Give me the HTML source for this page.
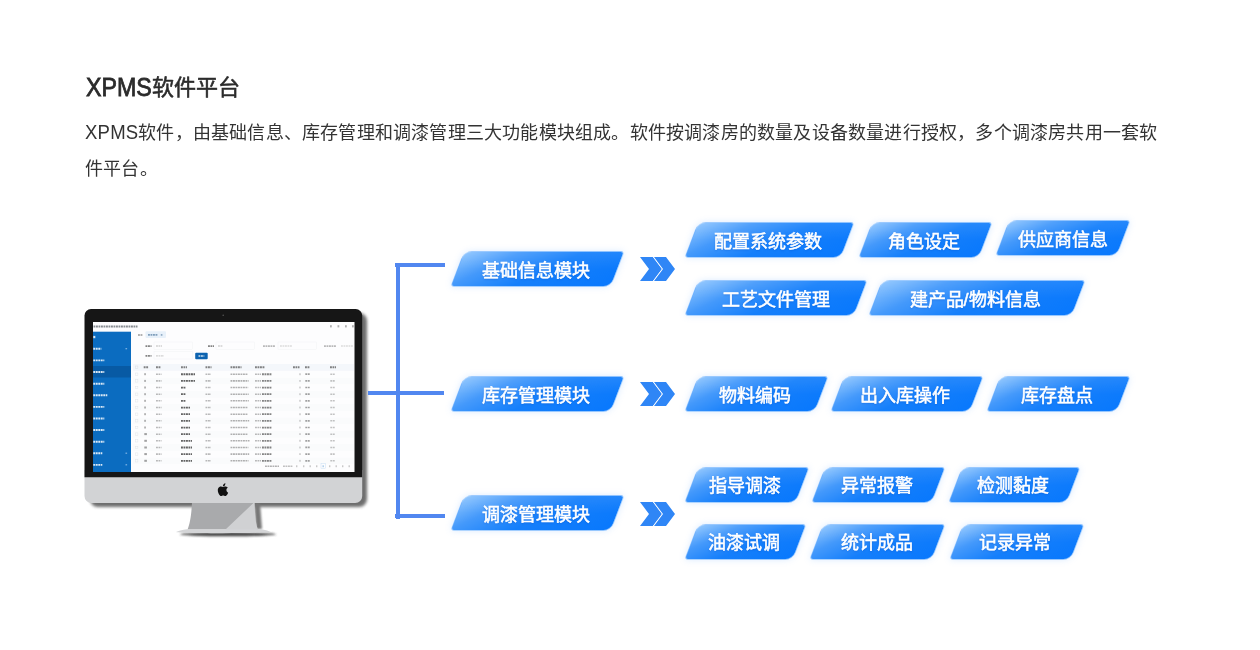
<!DOCTYPE html>
<html lang="zh-CN">
<head>
<meta charset="utf-8">
<title>XPMS软件平台</title>
<style>
*{margin:0;padding:0;box-sizing:border-box}
html,body{width:1260px;height:650px;background:#fff;overflow:hidden}
body{position:relative;font-family:"Liberation Sans",sans-serif;color:#333}
h1{position:absolute;left:85.6px;top:72px;font-size:22px;line-height:32px;font-weight:400;color:#2b2b2b;white-space:nowrap;will-change:transform;-webkit-text-stroke:.55px #2b2b2b}
h1 .lat{display:inline-block;transform:translateY(.6px) scale(1.056,1.13);transform-origin:0 23.6px;margin-right:3.5px;-webkit-text-stroke:.7px #2b2b2b}
p.desc{will-change:transform;position:absolute;left:85px;top:115px;width:1078px;font-size:18px;line-height:36px;color:#333;letter-spacing:.2px}
p.desc .lat{display:inline-block;transform:scale(1.03,1.1);transform-origin:0 24.2px;margin-right:1.4px}
.ln{position:absolute;background:#5187f0}
.pill{position:absolute;height:36px;transform:skewX(-21deg);border-radius:8px 4px 8px 4px;
 background:linear-gradient(180deg,rgba(255,255,255,.08) 0%,rgba(255,255,255,0) 50%),linear-gradient(150deg,#8cc4fe 0%,#4499fb 26%,#157ffb 55%,#0878fd 100%);
 border:1px solid rgba(190,220,255,.75);box-shadow:0 0 6px rgba(120,180,255,.25)}
.pill span{display:block;transform:skewX(21deg);text-align:center;font-size:18px;letter-spacing:0;line-height:39.4px;font-weight:400;-webkit-text-stroke:.55px #fff;color:#fff;white-space:nowrap;text-shadow:0 1px 2px rgba(0,70,190,.45);margin-left:-.6px}
svg{position:absolute;left:0;top:0}
</style>
</head>
<body>
<h1><span class="lat">XPMS</span>软件平台</h1>
<p class="desc"><span class="lat">XPMS</span>软件，由基础信息、库存管理和调漆管理三大功能模块组成。软件按调漆房的数量及设备数量进行授权，多个调漆房共用一套软件平台。</p>


<!-- iMac -->
<svg width="1260" height="650" viewBox="0 0 1260 650">
 <defs>
  <filter id="bl0" x="-5%" y="-5%" width="110%" height="110%"><feGaussianBlur stdDeviation=".42"/></filter>
  <filter id="bl2" x="-20%" y="-20%" width="140%" height="140%"><feGaussianBlur stdDeviation="1.6"/></filter>
  <filter id="bl1" x="-20%" y="-50%" width="140%" height="200%"><feGaussianBlur stdDeviation="1.2"/></filter>
  <clipPath id="scr"><rect x="93" y="322" width="261.5" height="150"/></clipPath>
 </defs>
 <!-- body shadow -->
 <rect x="90" y="313" width="277" height="194" rx="8" fill="#555" opacity=".85" filter="url(#bl2)"/>
 <!-- stand shadow -->
 <path d="M254,503 L260,503 L262,529 L256,529 Z" fill="#777" filter="url(#bl1)"/>
 <ellipse cx="228" cy="534.3" rx="48" ry="2" fill="#444" filter="url(#bl1)"/>
 <!-- stand -->
 <path d="M192,502 H254.5 C255,514 255.5,524 258,529.5 H187.5 C190,524 191.5,514 192,502 Z" fill="#a9aaac"/>
 <path d="M254.5,502 C255,514 255.5,524 258,529.5 H225.5 Z" fill="#d0d1d3"/>
 <path d="M176,532 C182,529.6 186,529.3 190,529.3 H256 C262,529.3 266,529.8 270.5,532 C262,533.6 184,533.6 176,532 Z" fill="#d4d5d7"/>
 <!-- chin -->
 <path d="M84.5,470 H362.2 V496 a7,7 0 0 1 -7,7 H91.5 a7,7 0 0 1 -7,-7 Z" fill="#d2d3d5"/>
 <!-- bezel -->
 <path d="M91,309 H355.7 a6.5,6.5 0 0 1 6.5,6.5 V477.2 H84.5 V315.5 a6.5,6.5 0 0 1 6.5,-6.5 Z" fill="#161616"/>
 <circle cx="223.2" cy="315.3" r=".8" fill="#555"/>
 <!-- screen -->
 <rect x="93" y="322" width="261.5" height="150" fill="#fdfdfe"/>
 <g clip-path="url(#scr)">
  <rect x="93" y="331.7" width="38" height="141" fill="#0b6cc0"/>
  <rect x="93" y="366" width="38" height="11.5" fill="#085aa4"/>
  <g id="scrc" filter="url(#bl0)">
  <line x1="93.5" y1="326.45" x2="137.5" y2="326.45" stroke="#3a4048" stroke-width="1.95" stroke-dasharray="1.9 .6" opacity="0.6"/>
  <rect x="330.0" y="325.2" width="1.8" height="2.2" fill="#555" opacity="0.45"/>
  <rect x="337.5" y="325.2" width="1.8" height="2.2" fill="#555" opacity="0.45"/>
  <rect x="345.0" y="325.2" width="1.8" height="2.2" fill="#555" opacity="0.45"/>
  <rect x="352.0" y="325.2" width="1.8" height="2.2" fill="#555" opacity="0.45"/>
  <rect x="93.3" y="335.9" width="2.0" height="2.3" fill="#fff" opacity="0.85"/>
  <line x1="93.3" y1="348.75" x2="101.3" y2="348.75" stroke="#fff" stroke-width="1.95" stroke-dasharray="1.9 .6" opacity="0.85"/>
  <line x1="93.3" y1="360.35" x2="104.3" y2="360.35" stroke="#fff" stroke-width="1.95" stroke-dasharray="1.9 .6" opacity="0.85"/>
  <line x1="93.3" y1="371.95" x2="104.3" y2="371.95" stroke="#fff" stroke-width="1.95" stroke-dasharray="1.9 .6" opacity="0.85"/>
  <line x1="93.3" y1="383.65" x2="104.3" y2="383.65" stroke="#fff" stroke-width="1.95" stroke-dasharray="1.9 .6" opacity="0.85"/>
  <line x1="93.3" y1="395.25" x2="107.3" y2="395.25" stroke="#fff" stroke-width="1.95" stroke-dasharray="1.9 .6" opacity="0.85"/>
  <line x1="93.3" y1="406.85" x2="104.3" y2="406.85" stroke="#fff" stroke-width="1.95" stroke-dasharray="1.9 .6" opacity="0.85"/>
  <line x1="93.3" y1="418.45" x2="104.3" y2="418.45" stroke="#fff" stroke-width="1.95" stroke-dasharray="1.9 .6" opacity="0.85"/>
  <line x1="93.3" y1="430.05" x2="104.3" y2="430.05" stroke="#fff" stroke-width="1.95" stroke-dasharray="1.9 .6" opacity="0.85"/>
  <line x1="93.3" y1="441.65" x2="104.3" y2="441.65" stroke="#fff" stroke-width="1.95" stroke-dasharray="1.9 .6" opacity="0.85"/>
  <line x1="93.3" y1="453.25" x2="102.3" y2="453.25" stroke="#fff" stroke-width="1.95" stroke-dasharray="1.9 .6" opacity="0.85"/>
  <line x1="93.3" y1="464.85" x2="102.3" y2="464.85" stroke="#fff" stroke-width="1.95" stroke-dasharray="1.9 .6" opacity="0.85"/>
  <rect x="125.5" y="348.1" width="1.6" height="1.2" fill="#9cc6ec" opacity="0.8"/>
  <rect x="125.5" y="452.6" width="1.6" height="1.2" fill="#9cc6ec" opacity="0.8"/>
  <rect x="125.5" y="464.2" width="1.6" height="1.2" fill="#9cc6ec" opacity="0.8"/>
  <line x1="138.0" y1="335.00" x2="143.0" y2="335.00" stroke="#444" stroke-width="1.70" stroke-dasharray="1.9 .6" opacity="0.55"/>
  <rect x="145.5" y="331.3" width="20.5" height="6.6" fill="#e8f1fa" rx="1"/>
  <line x1="148.0" y1="334.95" x2="158.0" y2="334.95" stroke="#3c6a94" stroke-width="1.78" stroke-dasharray="1.9 .6" opacity="0.6"/>
  <rect x="160.8" y="334.0" width="1.6" height="1.8" fill="#3c6a94" opacity="0.5"/>
  <line x1="145.5" y1="346.05" x2="151.5" y2="346.05" stroke="#333" stroke-width="1.78" stroke-dasharray="1.9 .6" opacity="0.6"/>
  <line x1="156.0" y1="346.05" x2="162.0" y2="346.05" stroke="#aaa" stroke-width="1.44" stroke-dasharray="1.9 .6" opacity="0.55"/>
  <rect x="154.0" y="342.0" width="38.5" height="7.2" fill="none" stroke="#eef0f3" stroke-width=".4"/>
  <line x1="208.0" y1="346.05" x2="214.0" y2="346.05" stroke="#333" stroke-width="1.78" stroke-dasharray="1.9 .6" opacity="0.6"/>
  <line x1="218.0" y1="346.05" x2="223.0" y2="346.05" stroke="#aaa" stroke-width="1.44" stroke-dasharray="1.9 .6" opacity="0.55"/>
  <rect x="216.0" y="342.0" width="38.5" height="7.2" fill="none" stroke="#eef0f3" stroke-width=".4"/>
  <line x1="263.0" y1="346.10" x2="275.0" y2="346.10" stroke="#777" stroke-width="1.70" stroke-dasharray="1.9 .6" opacity="0.5"/>
  <line x1="280.0" y1="346.05" x2="292.0" y2="346.05" stroke="#bbb" stroke-width="1.44" stroke-dasharray="1.9 .6" opacity="0.5"/>
  <rect x="278.0" y="342.0" width="38.5" height="7.2" fill="none" stroke="#eef0f3" stroke-width=".4"/>
  <line x1="324.0" y1="346.10" x2="336.0" y2="346.10" stroke="#777" stroke-width="1.70" stroke-dasharray="1.9 .6" opacity="0.5"/>
  <line x1="341.0" y1="346.05" x2="353.0" y2="346.05" stroke="#bbb" stroke-width="1.44" stroke-dasharray="1.9 .6" opacity="0.5"/>
  <line x1="145.5" y1="355.85" x2="151.5" y2="355.85" stroke="#333" stroke-width="1.78" stroke-dasharray="1.9 .6" opacity="0.6"/>
  <line x1="156.0" y1="355.85" x2="164.0" y2="355.85" stroke="#aaa" stroke-width="1.44" stroke-dasharray="1.9 .6" opacity="0.55"/>
  <rect x="154.0" y="351.8" width="38.5" height="7.2" fill="none" stroke="#eef0f3" stroke-width=".4"/>
  <rect x="195.2" y="352.7" width="12.5" height="6.5" fill="#0b64b0" rx="1"/>
  <line x1="198.5" y1="356.00" x2="204.3" y2="356.00" stroke="#fff" stroke-width="1.70" stroke-dasharray="1.9 .6" opacity="0.8"/>
  <rect x="133.0" y="364.0" width="221.0" height="6.8" fill="#f4f7fb"/>
  <line x1="143.7" y1="367.30" x2="148.7" y2="367.30" stroke="#333" stroke-width="1.87" stroke-dasharray="1.9 .6" opacity="0.6"/>
  <line x1="156.0" y1="367.30" x2="161.0" y2="367.30" stroke="#333" stroke-width="1.87" stroke-dasharray="1.9 .6" opacity="0.6"/>
  <line x1="181.0" y1="367.30" x2="187.0" y2="367.30" stroke="#333" stroke-width="1.87" stroke-dasharray="1.9 .6" opacity="0.6"/>
  <line x1="205.5" y1="367.30" x2="211.5" y2="367.30" stroke="#333" stroke-width="1.87" stroke-dasharray="1.9 .6" opacity="0.6"/>
  <line x1="230.5" y1="367.30" x2="241.5" y2="367.30" stroke="#333" stroke-width="1.87" stroke-dasharray="1.9 .6" opacity="0.6"/>
  <line x1="255.0" y1="367.30" x2="265.0" y2="367.30" stroke="#333" stroke-width="1.87" stroke-dasharray="1.9 .6" opacity="0.6"/>
  <line x1="293.0" y1="367.30" x2="299.5" y2="367.30" stroke="#333" stroke-width="1.87" stroke-dasharray="1.9 .6" opacity="0.6"/>
  <line x1="305.0" y1="367.30" x2="310.0" y2="367.30" stroke="#333" stroke-width="1.87" stroke-dasharray="1.9 .6" opacity="0.6"/>
  <line x1="330.0" y1="367.30" x2="336.0" y2="367.30" stroke="#333" stroke-width="1.87" stroke-dasharray="1.9 .6" opacity="0.6"/>
  <rect x="135.5" y="366.0" width="2.4" height="2.4" fill="none" stroke="#d5d9de" stroke-width=".4"/>
  <rect x="135.5" y="373.0" width="2.4" height="2.4" fill="none" stroke="#dde0e4" stroke-width=".4"/>
  <rect x="144.3" y="373.2" width="1.5" height="2.0" fill="#555" opacity="0.55"/>
  <line x1="156.0" y1="374.20" x2="161.5" y2="374.20" stroke="#777" stroke-width="1.53" stroke-dasharray="1.9 .6" opacity="0.5"/>
  <line x1="181.0" y1="374.25" x2="195.0" y2="374.25" stroke="#222" stroke-width="1.78" stroke-dasharray="1.9 .6" opacity="0.7"/>
  <line x1="205.5" y1="374.20" x2="211.0" y2="374.20" stroke="#777" stroke-width="1.53" stroke-dasharray="1.9 .6" opacity="0.5"/>
  <line x1="230.5" y1="374.20" x2="248.0" y2="374.20" stroke="#666" stroke-width="1.53" stroke-dasharray="1.9 .6" opacity="0.5"/>
  <line x1="255.0" y1="374.20" x2="261.0" y2="374.20" stroke="#777" stroke-width="1.53" stroke-dasharray="1.9 .6" opacity="0.5"/>
  <line x1="262.0" y1="374.25" x2="271.5" y2="374.25" stroke="#333" stroke-width="1.78" stroke-dasharray="1.9 .6" opacity="0.6"/>
  <rect x="299.5" y="373.3" width="1.0" height="1.8" fill="#666" opacity="0.5"/>
  <line x1="305.3" y1="374.20" x2="309.8" y2="374.20" stroke="#555" stroke-width="1.70" stroke-dasharray="1.9 .6" opacity="0.55"/>
  <line x1="330.3" y1="374.20" x2="334.8" y2="374.20" stroke="#888" stroke-width="1.53" stroke-dasharray="1.9 .6" opacity="0.5"/>
  <rect x="133.0" y="377.7" width="221.0" height="6.6" fill="#fafbfc"/>
  <rect x="135.5" y="379.7" width="2.4" height="2.4" fill="none" stroke="#dde0e4" stroke-width=".4"/>
  <rect x="144.3" y="379.9" width="1.5" height="2.0" fill="#555" opacity="0.55"/>
  <line x1="156.0" y1="380.86" x2="161.5" y2="380.86" stroke="#777" stroke-width="1.53" stroke-dasharray="1.9 .6" opacity="0.5"/>
  <line x1="181.0" y1="380.91" x2="195.0" y2="380.91" stroke="#222" stroke-width="1.78" stroke-dasharray="1.9 .6" opacity="0.7"/>
  <line x1="205.5" y1="380.86" x2="211.0" y2="380.86" stroke="#777" stroke-width="1.53" stroke-dasharray="1.9 .6" opacity="0.5"/>
  <line x1="230.5" y1="380.86" x2="248.6" y2="380.86" stroke="#666" stroke-width="1.53" stroke-dasharray="1.9 .6" opacity="0.5"/>
  <line x1="255.0" y1="380.86" x2="261.0" y2="380.86" stroke="#777" stroke-width="1.53" stroke-dasharray="1.9 .6" opacity="0.5"/>
  <line x1="262.0" y1="380.91" x2="271.5" y2="380.91" stroke="#333" stroke-width="1.78" stroke-dasharray="1.9 .6" opacity="0.6"/>
  <rect x="299.5" y="380.0" width="1.0" height="1.8" fill="#666" opacity="0.5"/>
  <line x1="305.3" y1="380.86" x2="309.8" y2="380.86" stroke="#555" stroke-width="1.70" stroke-dasharray="1.9 .6" opacity="0.55"/>
  <line x1="330.3" y1="380.86" x2="334.8" y2="380.86" stroke="#888" stroke-width="1.53" stroke-dasharray="1.9 .6" opacity="0.5"/>
  <rect x="135.5" y="386.3" width="2.4" height="2.4" fill="none" stroke="#dde0e4" stroke-width=".4"/>
  <rect x="144.3" y="386.5" width="1.5" height="2.0" fill="#555" opacity="0.55"/>
  <line x1="156.0" y1="387.52" x2="161.5" y2="387.52" stroke="#777" stroke-width="1.53" stroke-dasharray="1.9 .6" opacity="0.5"/>
  <line x1="181.0" y1="387.57" x2="186.0" y2="387.57" stroke="#222" stroke-width="1.78" stroke-dasharray="1.9 .6" opacity="0.7"/>
  <line x1="205.5" y1="387.52" x2="211.0" y2="387.52" stroke="#777" stroke-width="1.53" stroke-dasharray="1.9 .6" opacity="0.5"/>
  <line x1="230.5" y1="387.52" x2="248.2" y2="387.52" stroke="#666" stroke-width="1.53" stroke-dasharray="1.9 .6" opacity="0.5"/>
  <line x1="255.0" y1="387.52" x2="261.0" y2="387.52" stroke="#777" stroke-width="1.53" stroke-dasharray="1.9 .6" opacity="0.5"/>
  <line x1="262.0" y1="387.57" x2="271.5" y2="387.57" stroke="#333" stroke-width="1.78" stroke-dasharray="1.9 .6" opacity="0.6"/>
  <rect x="299.5" y="386.6" width="1.0" height="1.8" fill="#666" opacity="0.5"/>
  <line x1="305.3" y1="387.52" x2="309.8" y2="387.52" stroke="#555" stroke-width="1.70" stroke-dasharray="1.9 .6" opacity="0.55"/>
  <line x1="330.3" y1="387.52" x2="334.8" y2="387.52" stroke="#888" stroke-width="1.53" stroke-dasharray="1.9 .6" opacity="0.5"/>
  <rect x="133.0" y="391.0" width="221.0" height="6.6" fill="#fafbfc"/>
  <rect x="135.5" y="393.0" width="2.4" height="2.4" fill="none" stroke="#dde0e4" stroke-width=".4"/>
  <rect x="144.3" y="393.2" width="1.5" height="2.0" fill="#555" opacity="0.55"/>
  <line x1="156.0" y1="394.18" x2="161.5" y2="394.18" stroke="#777" stroke-width="1.53" stroke-dasharray="1.9 .6" opacity="0.5"/>
  <line x1="181.0" y1="394.23" x2="186.0" y2="394.23" stroke="#222" stroke-width="1.78" stroke-dasharray="1.9 .6" opacity="0.7"/>
  <line x1="205.5" y1="394.18" x2="211.0" y2="394.18" stroke="#777" stroke-width="1.53" stroke-dasharray="1.9 .6" opacity="0.5"/>
  <line x1="230.5" y1="394.18" x2="248.7" y2="394.18" stroke="#666" stroke-width="1.53" stroke-dasharray="1.9 .6" opacity="0.5"/>
  <line x1="255.0" y1="394.18" x2="261.0" y2="394.18" stroke="#777" stroke-width="1.53" stroke-dasharray="1.9 .6" opacity="0.5"/>
  <line x1="262.0" y1="394.23" x2="271.5" y2="394.23" stroke="#333" stroke-width="1.78" stroke-dasharray="1.9 .6" opacity="0.6"/>
  <rect x="299.5" y="393.3" width="1.0" height="1.8" fill="#666" opacity="0.5"/>
  <line x1="305.3" y1="394.18" x2="309.8" y2="394.18" stroke="#555" stroke-width="1.70" stroke-dasharray="1.9 .6" opacity="0.55"/>
  <line x1="330.3" y1="394.18" x2="334.8" y2="394.18" stroke="#888" stroke-width="1.53" stroke-dasharray="1.9 .6" opacity="0.5"/>
  <rect x="135.5" y="399.6" width="2.4" height="2.4" fill="none" stroke="#dde0e4" stroke-width=".4"/>
  <rect x="144.3" y="399.8" width="1.5" height="2.0" fill="#555" opacity="0.55"/>
  <line x1="156.0" y1="400.84" x2="161.5" y2="400.84" stroke="#777" stroke-width="1.53" stroke-dasharray="1.9 .6" opacity="0.5"/>
  <line x1="181.0" y1="400.89" x2="186.0" y2="400.89" stroke="#222" stroke-width="1.78" stroke-dasharray="1.9 .6" opacity="0.7"/>
  <line x1="205.5" y1="400.84" x2="211.0" y2="400.84" stroke="#777" stroke-width="1.53" stroke-dasharray="1.9 .6" opacity="0.5"/>
  <line x1="230.5" y1="400.84" x2="248.8" y2="400.84" stroke="#666" stroke-width="1.53" stroke-dasharray="1.9 .6" opacity="0.5"/>
  <line x1="255.0" y1="400.84" x2="261.0" y2="400.84" stroke="#777" stroke-width="1.53" stroke-dasharray="1.9 .6" opacity="0.5"/>
  <line x1="262.0" y1="400.89" x2="271.5" y2="400.89" stroke="#333" stroke-width="1.78" stroke-dasharray="1.9 .6" opacity="0.6"/>
  <rect x="299.5" y="399.9" width="1.0" height="1.8" fill="#666" opacity="0.5"/>
  <line x1="305.3" y1="400.84" x2="309.8" y2="400.84" stroke="#555" stroke-width="1.70" stroke-dasharray="1.9 .6" opacity="0.55"/>
  <line x1="330.3" y1="400.84" x2="334.8" y2="400.84" stroke="#888" stroke-width="1.53" stroke-dasharray="1.9 .6" opacity="0.5"/>
  <rect x="133.0" y="404.3" width="221.0" height="6.6" fill="#fafbfc"/>
  <rect x="135.5" y="406.3" width="2.4" height="2.4" fill="none" stroke="#dde0e4" stroke-width=".4"/>
  <rect x="144.3" y="406.5" width="1.5" height="2.0" fill="#555" opacity="0.55"/>
  <line x1="156.0" y1="407.50" x2="161.5" y2="407.50" stroke="#777" stroke-width="1.53" stroke-dasharray="1.9 .6" opacity="0.5"/>
  <line x1="181.0" y1="407.55" x2="190.0" y2="407.55" stroke="#222" stroke-width="1.78" stroke-dasharray="1.9 .6" opacity="0.7"/>
  <line x1="205.5" y1="407.50" x2="211.0" y2="407.50" stroke="#777" stroke-width="1.53" stroke-dasharray="1.9 .6" opacity="0.5"/>
  <line x1="230.5" y1="407.50" x2="247.6" y2="407.50" stroke="#666" stroke-width="1.53" stroke-dasharray="1.9 .6" opacity="0.5"/>
  <line x1="255.0" y1="407.50" x2="261.0" y2="407.50" stroke="#777" stroke-width="1.53" stroke-dasharray="1.9 .6" opacity="0.5"/>
  <line x1="262.0" y1="407.55" x2="271.5" y2="407.55" stroke="#333" stroke-width="1.78" stroke-dasharray="1.9 .6" opacity="0.6"/>
  <rect x="299.5" y="406.6" width="1.0" height="1.8" fill="#666" opacity="0.5"/>
  <line x1="305.3" y1="407.50" x2="309.8" y2="407.50" stroke="#555" stroke-width="1.70" stroke-dasharray="1.9 .6" opacity="0.55"/>
  <line x1="330.3" y1="407.50" x2="334.8" y2="407.50" stroke="#888" stroke-width="1.53" stroke-dasharray="1.9 .6" opacity="0.5"/>
  <rect x="135.5" y="413.0" width="2.4" height="2.4" fill="none" stroke="#dde0e4" stroke-width=".4"/>
  <rect x="144.3" y="413.2" width="1.5" height="2.0" fill="#555" opacity="0.55"/>
  <line x1="156.0" y1="414.16" x2="161.5" y2="414.16" stroke="#777" stroke-width="1.53" stroke-dasharray="1.9 .6" opacity="0.5"/>
  <line x1="181.0" y1="414.21" x2="190.0" y2="414.21" stroke="#222" stroke-width="1.78" stroke-dasharray="1.9 .6" opacity="0.7"/>
  <line x1="205.5" y1="414.16" x2="211.0" y2="414.16" stroke="#777" stroke-width="1.53" stroke-dasharray="1.9 .6" opacity="0.5"/>
  <line x1="230.5" y1="414.16" x2="247.5" y2="414.16" stroke="#666" stroke-width="1.53" stroke-dasharray="1.9 .6" opacity="0.5"/>
  <line x1="255.0" y1="414.16" x2="261.0" y2="414.16" stroke="#777" stroke-width="1.53" stroke-dasharray="1.9 .6" opacity="0.5"/>
  <line x1="262.0" y1="414.21" x2="271.5" y2="414.21" stroke="#333" stroke-width="1.78" stroke-dasharray="1.9 .6" opacity="0.6"/>
  <rect x="299.5" y="413.3" width="1.0" height="1.8" fill="#666" opacity="0.5"/>
  <line x1="305.3" y1="414.16" x2="309.8" y2="414.16" stroke="#555" stroke-width="1.70" stroke-dasharray="1.9 .6" opacity="0.55"/>
  <line x1="330.3" y1="414.16" x2="334.8" y2="414.16" stroke="#888" stroke-width="1.53" stroke-dasharray="1.9 .6" opacity="0.5"/>
  <rect x="133.0" y="417.6" width="221.0" height="6.6" fill="#fafbfc"/>
  <rect x="135.5" y="419.6" width="2.4" height="2.4" fill="none" stroke="#dde0e4" stroke-width=".4"/>
  <rect x="144.3" y="419.8" width="1.5" height="2.0" fill="#555" opacity="0.55"/>
  <line x1="156.0" y1="420.82" x2="161.5" y2="420.82" stroke="#777" stroke-width="1.53" stroke-dasharray="1.9 .6" opacity="0.5"/>
  <line x1="181.0" y1="420.87" x2="190.0" y2="420.87" stroke="#222" stroke-width="1.78" stroke-dasharray="1.9 .6" opacity="0.7"/>
  <line x1="205.5" y1="420.82" x2="211.0" y2="420.82" stroke="#777" stroke-width="1.53" stroke-dasharray="1.9 .6" opacity="0.5"/>
  <line x1="230.5" y1="420.82" x2="249.2" y2="420.82" stroke="#666" stroke-width="1.53" stroke-dasharray="1.9 .6" opacity="0.5"/>
  <line x1="255.0" y1="420.82" x2="261.0" y2="420.82" stroke="#777" stroke-width="1.53" stroke-dasharray="1.9 .6" opacity="0.5"/>
  <line x1="262.0" y1="420.87" x2="271.5" y2="420.87" stroke="#333" stroke-width="1.78" stroke-dasharray="1.9 .6" opacity="0.6"/>
  <rect x="299.5" y="419.9" width="1.0" height="1.8" fill="#666" opacity="0.5"/>
  <line x1="305.3" y1="420.82" x2="309.8" y2="420.82" stroke="#555" stroke-width="1.70" stroke-dasharray="1.9 .6" opacity="0.55"/>
  <line x1="330.3" y1="420.82" x2="334.8" y2="420.82" stroke="#888" stroke-width="1.53" stroke-dasharray="1.9 .6" opacity="0.5"/>
  <rect x="135.5" y="426.3" width="2.4" height="2.4" fill="none" stroke="#dde0e4" stroke-width=".4"/>
  <rect x="144.3" y="426.5" width="1.5" height="2.0" fill="#555" opacity="0.55"/>
  <line x1="156.0" y1="427.48" x2="161.5" y2="427.48" stroke="#777" stroke-width="1.53" stroke-dasharray="1.9 .6" opacity="0.5"/>
  <line x1="181.0" y1="427.53" x2="190.0" y2="427.53" stroke="#222" stroke-width="1.78" stroke-dasharray="1.9 .6" opacity="0.7"/>
  <line x1="205.5" y1="427.48" x2="211.0" y2="427.48" stroke="#777" stroke-width="1.53" stroke-dasharray="1.9 .6" opacity="0.5"/>
  <line x1="230.5" y1="427.48" x2="248.0" y2="427.48" stroke="#666" stroke-width="1.53" stroke-dasharray="1.9 .6" opacity="0.5"/>
  <line x1="255.0" y1="427.48" x2="261.0" y2="427.48" stroke="#777" stroke-width="1.53" stroke-dasharray="1.9 .6" opacity="0.5"/>
  <line x1="262.0" y1="427.53" x2="271.5" y2="427.53" stroke="#333" stroke-width="1.78" stroke-dasharray="1.9 .6" opacity="0.6"/>
  <rect x="299.5" y="426.6" width="1.0" height="1.8" fill="#666" opacity="0.5"/>
  <line x1="305.3" y1="427.48" x2="309.8" y2="427.48" stroke="#555" stroke-width="1.70" stroke-dasharray="1.9 .6" opacity="0.55"/>
  <line x1="330.3" y1="427.48" x2="334.8" y2="427.48" stroke="#888" stroke-width="1.53" stroke-dasharray="1.9 .6" opacity="0.5"/>
  <rect x="133.0" y="430.9" width="221.0" height="6.6" fill="#fafbfc"/>
  <rect x="135.5" y="432.9" width="2.4" height="2.4" fill="none" stroke="#dde0e4" stroke-width=".4"/>
  <rect x="144.3" y="433.1" width="2.6" height="2.0" fill="#555" opacity="0.55"/>
  <line x1="156.0" y1="434.14" x2="161.5" y2="434.14" stroke="#777" stroke-width="1.53" stroke-dasharray="1.9 .6" opacity="0.5"/>
  <line x1="181.0" y1="434.19" x2="190.0" y2="434.19" stroke="#222" stroke-width="1.78" stroke-dasharray="1.9 .6" opacity="0.7"/>
  <line x1="205.5" y1="434.14" x2="211.0" y2="434.14" stroke="#777" stroke-width="1.53" stroke-dasharray="1.9 .6" opacity="0.5"/>
  <line x1="230.5" y1="434.14" x2="248.0" y2="434.14" stroke="#666" stroke-width="1.53" stroke-dasharray="1.9 .6" opacity="0.5"/>
  <line x1="255.0" y1="434.14" x2="261.0" y2="434.14" stroke="#777" stroke-width="1.53" stroke-dasharray="1.9 .6" opacity="0.5"/>
  <line x1="262.0" y1="434.19" x2="271.5" y2="434.19" stroke="#333" stroke-width="1.78" stroke-dasharray="1.9 .6" opacity="0.6"/>
  <rect x="299.5" y="433.2" width="1.0" height="1.8" fill="#666" opacity="0.5"/>
  <line x1="305.3" y1="434.14" x2="309.8" y2="434.14" stroke="#555" stroke-width="1.70" stroke-dasharray="1.9 .6" opacity="0.55"/>
  <line x1="330.3" y1="434.14" x2="334.8" y2="434.14" stroke="#888" stroke-width="1.53" stroke-dasharray="1.9 .6" opacity="0.5"/>
  <rect x="135.5" y="439.6" width="2.4" height="2.4" fill="none" stroke="#dde0e4" stroke-width=".4"/>
  <rect x="144.3" y="439.8" width="2.6" height="2.0" fill="#555" opacity="0.55"/>
  <line x1="156.0" y1="440.80" x2="161.5" y2="440.80" stroke="#777" stroke-width="1.53" stroke-dasharray="1.9 .6" opacity="0.5"/>
  <line x1="181.0" y1="440.85" x2="192.0" y2="440.85" stroke="#222" stroke-width="1.78" stroke-dasharray="1.9 .6" opacity="0.7"/>
  <line x1="205.5" y1="440.80" x2="211.0" y2="440.80" stroke="#777" stroke-width="1.53" stroke-dasharray="1.9 .6" opacity="0.5"/>
  <line x1="230.5" y1="440.80" x2="249.5" y2="440.80" stroke="#666" stroke-width="1.53" stroke-dasharray="1.9 .6" opacity="0.5"/>
  <line x1="255.0" y1="440.80" x2="261.0" y2="440.80" stroke="#777" stroke-width="1.53" stroke-dasharray="1.9 .6" opacity="0.5"/>
  <line x1="262.0" y1="440.85" x2="271.5" y2="440.85" stroke="#333" stroke-width="1.78" stroke-dasharray="1.9 .6" opacity="0.6"/>
  <rect x="299.5" y="439.9" width="1.0" height="1.8" fill="#666" opacity="0.5"/>
  <line x1="305.3" y1="440.80" x2="309.8" y2="440.80" stroke="#555" stroke-width="1.70" stroke-dasharray="1.9 .6" opacity="0.55"/>
  <line x1="330.3" y1="440.80" x2="334.8" y2="440.80" stroke="#888" stroke-width="1.53" stroke-dasharray="1.9 .6" opacity="0.5"/>
  <rect x="133.0" y="444.3" width="221.0" height="6.6" fill="#fafbfc"/>
  <rect x="135.5" y="446.3" width="2.4" height="2.4" fill="none" stroke="#dde0e4" stroke-width=".4"/>
  <rect x="144.3" y="446.5" width="2.6" height="2.0" fill="#555" opacity="0.55"/>
  <line x1="156.0" y1="447.46" x2="161.5" y2="447.46" stroke="#777" stroke-width="1.53" stroke-dasharray="1.9 .6" opacity="0.5"/>
  <line x1="181.0" y1="447.51" x2="192.0" y2="447.51" stroke="#222" stroke-width="1.78" stroke-dasharray="1.9 .6" opacity="0.7"/>
  <line x1="205.5" y1="447.46" x2="211.0" y2="447.46" stroke="#777" stroke-width="1.53" stroke-dasharray="1.9 .6" opacity="0.5"/>
  <line x1="230.5" y1="447.46" x2="248.4" y2="447.46" stroke="#666" stroke-width="1.53" stroke-dasharray="1.9 .6" opacity="0.5"/>
  <line x1="255.0" y1="447.46" x2="261.0" y2="447.46" stroke="#777" stroke-width="1.53" stroke-dasharray="1.9 .6" opacity="0.5"/>
  <line x1="262.0" y1="447.51" x2="271.5" y2="447.51" stroke="#333" stroke-width="1.78" stroke-dasharray="1.9 .6" opacity="0.6"/>
  <rect x="299.5" y="446.6" width="1.0" height="1.8" fill="#666" opacity="0.5"/>
  <line x1="305.3" y1="447.46" x2="309.8" y2="447.46" stroke="#555" stroke-width="1.70" stroke-dasharray="1.9 .6" opacity="0.55"/>
  <line x1="330.3" y1="447.46" x2="334.8" y2="447.46" stroke="#888" stroke-width="1.53" stroke-dasharray="1.9 .6" opacity="0.5"/>
  <rect x="135.5" y="452.9" width="2.4" height="2.4" fill="none" stroke="#dde0e4" stroke-width=".4"/>
  <rect x="144.3" y="453.1" width="2.6" height="2.0" fill="#555" opacity="0.55"/>
  <line x1="156.0" y1="454.12" x2="161.5" y2="454.12" stroke="#777" stroke-width="1.53" stroke-dasharray="1.9 .6" opacity="0.5"/>
  <line x1="181.0" y1="454.17" x2="192.0" y2="454.17" stroke="#222" stroke-width="1.78" stroke-dasharray="1.9 .6" opacity="0.7"/>
  <line x1="205.5" y1="454.12" x2="211.0" y2="454.12" stroke="#777" stroke-width="1.53" stroke-dasharray="1.9 .6" opacity="0.5"/>
  <line x1="230.5" y1="454.12" x2="249.2" y2="454.12" stroke="#666" stroke-width="1.53" stroke-dasharray="1.9 .6" opacity="0.5"/>
  <line x1="255.0" y1="454.12" x2="261.0" y2="454.12" stroke="#777" stroke-width="1.53" stroke-dasharray="1.9 .6" opacity="0.5"/>
  <line x1="262.0" y1="454.17" x2="271.5" y2="454.17" stroke="#333" stroke-width="1.78" stroke-dasharray="1.9 .6" opacity="0.6"/>
  <rect x="299.5" y="453.2" width="1.0" height="1.8" fill="#666" opacity="0.5"/>
  <line x1="305.3" y1="454.12" x2="309.8" y2="454.12" stroke="#555" stroke-width="1.70" stroke-dasharray="1.9 .6" opacity="0.55"/>
  <line x1="330.3" y1="454.12" x2="334.8" y2="454.12" stroke="#888" stroke-width="1.53" stroke-dasharray="1.9 .6" opacity="0.5"/>
  <rect x="133.0" y="457.6" width="221.0" height="6.6" fill="#fafbfc"/>
  <rect x="135.5" y="459.6" width="2.4" height="2.4" fill="none" stroke="#dde0e4" stroke-width=".4"/>
  <rect x="144.3" y="459.8" width="2.6" height="2.0" fill="#555" opacity="0.55"/>
  <line x1="156.0" y1="460.78" x2="161.5" y2="460.78" stroke="#777" stroke-width="1.53" stroke-dasharray="1.9 .6" opacity="0.5"/>
  <line x1="181.0" y1="460.83" x2="192.0" y2="460.83" stroke="#222" stroke-width="1.78" stroke-dasharray="1.9 .6" opacity="0.7"/>
  <line x1="205.5" y1="460.78" x2="211.0" y2="460.78" stroke="#777" stroke-width="1.53" stroke-dasharray="1.9 .6" opacity="0.5"/>
  <line x1="230.5" y1="460.78" x2="248.5" y2="460.78" stroke="#666" stroke-width="1.53" stroke-dasharray="1.9 .6" opacity="0.5"/>
  <line x1="255.0" y1="460.78" x2="261.0" y2="460.78" stroke="#777" stroke-width="1.53" stroke-dasharray="1.9 .6" opacity="0.5"/>
  <line x1="262.0" y1="460.83" x2="271.5" y2="460.83" stroke="#333" stroke-width="1.78" stroke-dasharray="1.9 .6" opacity="0.6"/>
  <rect x="299.5" y="459.9" width="1.0" height="1.8" fill="#666" opacity="0.5"/>
  <line x1="305.3" y1="460.78" x2="309.8" y2="460.78" stroke="#555" stroke-width="1.70" stroke-dasharray="1.9 .6" opacity="0.55"/>
  <line x1="330.3" y1="460.78" x2="334.8" y2="460.78" stroke="#888" stroke-width="1.53" stroke-dasharray="1.9 .6" opacity="0.5"/>
  <line x1="265.0" y1="466.25" x2="279.0" y2="466.25" stroke="#666" stroke-width="1.61" stroke-dasharray="1.9 .6" opacity="0.5"/>
  <line x1="283.0" y1="466.25" x2="293.0" y2="466.25" stroke="#777" stroke-width="1.61" stroke-dasharray="1.9 .6" opacity="0.45"/>
  <rect x="296.0" y="465.3" width="1.4" height="1.9" fill="#888" opacity="0.45"/>
  <rect x="303.0" y="465.3" width="1.4" height="1.9" fill="#888" opacity="0.45"/>
  <rect x="309.5" y="465.3" width="1.4" height="1.9" fill="#888" opacity="0.45"/>
  <rect x="316.0" y="465.3" width="1.4" height="1.9" fill="#888" opacity="0.45"/>
  <rect x="321.0" y="463.5" width="4.6" height="5.2" fill="none" stroke="#c3dcf3" stroke-width=".45"/>
  <rect x="322.5" y="465.3" width="1.4" height="1.9" fill="#5a9bd8" opacity="0.5"/>
  <rect x="329.0" y="465.3" width="1.4" height="1.9" fill="#888" opacity="0.45"/>
  <rect x="335.5" y="465.3" width="1.4" height="1.9" fill="#888" opacity="0.45"/>
  <rect x="342.0" y="465.3" width="1.4" height="1.9" fill="#888" opacity="0.45"/>
  <rect x="348.5" y="465.3" width="1.4" height="1.9" fill="#888" opacity="0.45"/>
  </g>
 </g>
 <!-- apple -->
 <g transform="translate(215.2,482) scale(0.0142)" fill="#111">
  <path d="M788 571c-1-112 92-166 96-169-52-76-134-87-163-88-69-7-135 41-170 41s-89-40-147-39c-75 1-145 44-184 111-79 137-20 339 56 450 38 54 82 115 141 113 57-2 78-37 147-37s88 37 148 35c61-1 100-55 137-110 43-63 61-124 62-127-1-1-119-46-123-180zM675 238c31-38 52-90 46-143-45 2-99 30-131 68-29 33-54 87-47 138 50 4 101-25 132-63z"/>
 </g>
</svg>

<!-- connectors -->
<div class="ln" style="left:396px;top:263px;width:4px;height:256px"></div>
<div class="ln" style="left:395px;top:263px;width:50px;height:4px"></div>
<div class="ln" style="left:368px;top:391px;width:76px;height:4px"></div>
<div class="ln" style="left:395px;top:514px;width:50px;height:4px"></div>

<!-- modules -->
<div class="pill" style="left:457.3px;top:251px;width:160.7px"><span>基础信息模块</span></div>
<div class="pill" style="left:457.3px;top:376px;width:160.7px"><span>库存管理模块</span></div>
<div class="pill" style="left:457.3px;top:495.4px;width:160.7px"><span>调漆管理模块</span></div>

<!-- row 1 -->
<div class="pill" style="left:691.3px;top:222px;width:156.7px"><span style="margin-left:.4px">配置系统参数</span></div>
<div class="pill" style="left:865.3px;top:222px;width:120.7px"><span>角色设定</span></div>
<div class="pill" style="left:1002.3px;top:220px;width:121.7px"><span style="margin-left:1.5px">供应商信息</span></div>
<!-- row 2 -->
<div class="pill" style="left:691.3px;top:280px;width:169.7px"><span style="margin-left:.5px">工艺文件管理</span></div>
<div class="pill" style="left:875.3px;top:280px;width:203.7px"><span>建产品/物料信息</span></div>
<!-- row 3 -->
<div class="pill" style="left:691.3px;top:376px;width:130.7px"><span>物料编码</span></div>
<div class="pill" style="left:837.3px;top:376px;width:139.7px"><span>出入库操作</span></div>
<div class="pill" style="left:993.3px;top:376px;width:130.7px"><span>库存盘点</span></div>
<!-- row 4 -->
<div class="pill" style="left:691.3px;top:467px;width:111.7px;height:35.5px"><span style="line-height:37.8px">指导调漆</span></div>
<div class="pill" style="left:818.3px;top:467px;width:120.7px;height:35.5px"><span style="line-height:37.8px">异常报警</span></div>
<div class="pill" style="left:955.3px;top:467px;width:118.7px;height:35.5px"><span style="line-height:37.8px">检测黏度</span></div>
<!-- row 5 -->
<div class="pill" style="left:691.3px;top:524px;width:108.7px;height:35.5px"><span style="line-height:37.8px">油漆试调</span></div>
<div class="pill" style="left:816.3px;top:524px;width:122.7px;height:35.5px"><span style="line-height:37.8px;margin-left:.6px">统计成品</span></div>
<div class="pill" style="left:956.3px;top:524px;width:121.7px;height:35.5px"><span style="line-height:37.8px">记录异常</span></div>

<svg width="1260" height="650" viewBox="0 0 1260 650">
 
 <g transform="translate(640,257)"><path d="M0,0 H13 L22,12 L13,24 H0 L9,12 Z" fill="#2f86f6"/><path d="M14,0 H26 L35,12 L26,24 H14 L23,12 Z" fill="#2f86f6" stroke="#fff" stroke-width="1.6" paint-order="stroke"/></g>
 <g transform="translate(640,382)"><path d="M0,0 H13 L22,12 L13,24 H0 L9,12 Z" fill="#2f86f6"/><path d="M14,0 H26 L35,12 L26,24 H14 L23,12 Z" fill="#2f86f6" stroke="#fff" stroke-width="1.6" paint-order="stroke"/></g>
 <g transform="translate(640,502)"><path d="M0,0 H13 L22,12 L13,24 H0 L9,12 Z" fill="#2f86f6"/><path d="M14,0 H26 L35,12 L26,24 H14 L23,12 Z" fill="#2f86f6" stroke="#fff" stroke-width="1.6" paint-order="stroke"/></g>
</svg>
</body>
</html>
